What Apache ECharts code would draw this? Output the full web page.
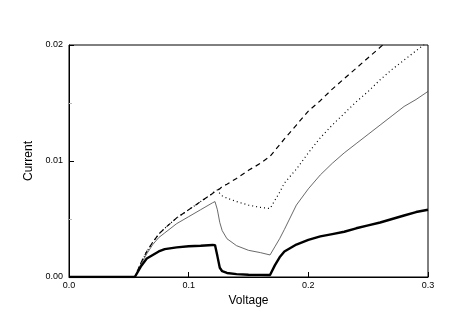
<!DOCTYPE html>
<html>
<head>
<meta charset="utf-8">
<script src="https://cdn.jsdelivr.net/npm/echarts@6/dist/echarts.min.js"></script>
<style>
  html, body { margin: 0; padding: 0; background: #fff; }
  #chart { width: 471px; height: 327px; }
</style>
</head>
<body>
<div id="chart"></div>
<script>
const voltage = [0, 0.055, 0.06, 0.065, 0.07, 0.075, 0.08, 0.09, 0.1, 0.11, 0.12, 0.122, 0.124, 0.126, 0.128, 0.132, 0.14, 0.15, 0.16, 0.168, 0.172, 0.176, 0.18, 0.19, 0.2, 0.21, 0.22, 0.23, 0.24, 0.25, 0.26, 0.27, 0.28, 0.29, 0.3]
const currentThick = [0, 0, 0.0009, 0.0016, 0.0019, 0.0022, 0.0024, 0.00255, 0.00265, 0.0027, 0.00276, 0.00275, 0.0018, 0.0008, 0.0005, 0.00035, 0.00025, 0.0002, 0.00018, 0.00017, 0.001, 0.0017, 0.0022, 0.0028, 0.0032, 0.0035, 0.0037, 0.0039, 0.0042, 0.00445, 0.0047, 0.005, 0.0053, 0.0056, 0.0058]
const currentThin = [0, 0, 0.0011, 0.002, 0.0028, 0.0034, 0.0038, 0.0046, 0.0052, 0.0058, 0.0064, 0.0065, 0.0058, 0.0047, 0.004, 0.0033, 0.0027, 0.0023, 0.0021, 0.0019, 0.0026, 0.0033, 0.0041, 0.0062, 0.0076, 0.0088, 0.0098, 0.0107, 0.0115, 0.0123, 0.0131, 0.0139, 0.0147, 0.0153, 0.016]
const currentDashed = [0, 0, 0.0012, 0.0022, 0.003, 0.0037, 0.0042, 0.0051, 0.0058, 0.0065, 0.0072, 0.0074, 0.0075, 0.0076, 0.0078, 0.008, 0.0085, 0.0092, 0.0098, 0.0104, 0.0109, 0.0114, 0.0119, 0.0131, 0.0143, 0.0152, 0.0162, 0.0171, 0.018, 0.0189, 0.0198, 0.0207, 0.0215, 0.0223, 0.0231]
const currentDotted = [0, 0, 0.0012, 0.0022, 0.003, 0.0037, 0.0042, 0.0051, 0.0058, 0.0065, 0.0072, 0.0074, 0.0075, 0.0072, 0.007, 0.0068, 0.0065, 0.0062, 0.006, 0.0059, 0.0066, 0.0073, 0.0081, 0.0093, 0.0107, 0.012, 0.0131, 0.0141, 0.0151, 0.016, 0.017, 0.0179, 0.0187, 0.0195, 0.0203]

const pairs = (ys) => voltage.map((v, i) => [v, ys[i]])
const font = 'Liberation Sans, Arial, sans-serif'

const chart = echarts.init(document.getElementById('chart'))
const options = {
  animation: false,
  grid: {
    left: 69,
    right: 43,
    top: 45,
    bottom: 50,
    show: true,
    borderColor: '#000',
    borderWidth: 1
  },
  xAxis: {
    type: 'value',
    min: 0,
    max: 0.3,
    interval: 0.1,
    name: 'Voltage',
    nameLocation: 'middle',
    nameGap: 18,
    nameTextStyle: { color: '#000', fontSize: 12, fontFamily: font },
    axisLine: { lineStyle: { color: '#000', width: 1 } },
    axisTick: { inside: true, length: 5, lineStyle: { color: '#000' } },
    axisLabel: {
      color: '#000',
      fontSize: 9,
      fontFamily: font,
      margin: 4,
      formatter: (v) => v.toFixed(1)
    },
    splitLine: { show: false }
  },
  yAxis: {
    type: 'value',
    min: 0,
    max: 0.02,
    interval: 0.01,
    name: 'Current',
    nameLocation: 'middle',
    nameGap: 25,
    nameTextStyle: { color: '#000', fontSize: 12, fontFamily: font },
    axisLine: { lineStyle: { color: '#000', width: 1 } },
    axisTick: { inside: true, length: 5, lineStyle: { color: '#000' } },
    minorTick: { show: true, splitNumber: 2, length: 3, lineStyle: { color: '#bbb' } },
    axisLabel: {
      color: '#000',
      fontSize: 9,
      fontFamily: font,
      margin: 6,
      formatter: (v) => v.toFixed(2)
    },
    splitLine: { show: false }
  },
  series: [
    {
      name: 'dashed',
      type: 'line',
      showSymbol: false,
      lineStyle: { color: '#000', width: 1.2, type: [5, 4] },
      data: pairs(currentDashed)
    },
    {
      name: 'dotted',
      type: 'line',
      showSymbol: false,
      lineStyle: { color: '#000', width: 1.2, type: [1, 3] },
      data: pairs(currentDotted)
    },
    {
      name: 'thin',
      type: 'line',
      showSymbol: false,
      lineStyle: { color: '#444', width: 0.8 },
      data: pairs(currentThin)
    },
    {
      name: 'thick',
      type: 'line',
      showSymbol: false,
      lineStyle: { color: '#000', width: 2.4 },
      data: pairs(currentThick)
    }
  ]
}
chart.setOption(options)
</script>
</body>
</html>
